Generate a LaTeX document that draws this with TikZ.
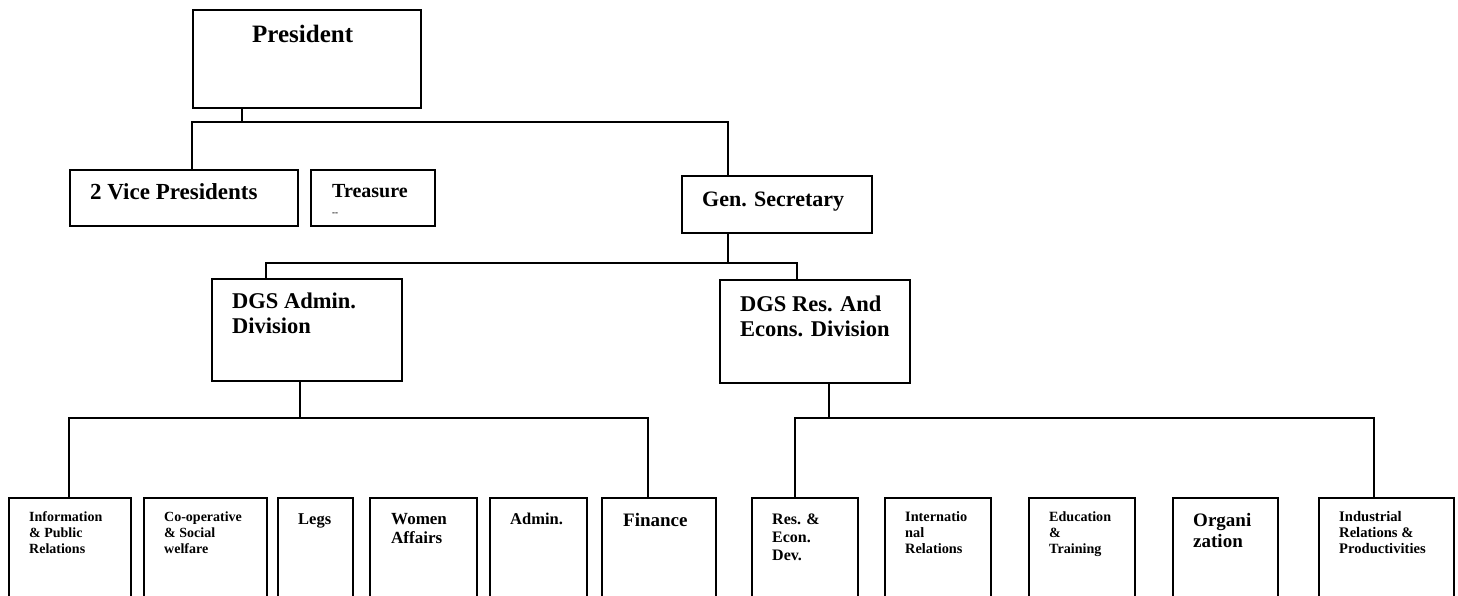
\documentclass[tikz,border=0pt]{standalone}
\usepackage{fontspec}
\setmainfont{Liberation Serif}
\newcommand{\fsz}[2]{\fontsize{#1}{#2}\selectfont\bfseries}
\tikzset{
  box/.style={draw, rectangle, line width=1.6pt, inner sep=0pt, anchor=north west},
  txt/.style={anchor=base west, inner sep=0pt, align=left},
  conn/.style={line width=1.5pt},
}
\begin{document}
\begin{tikzpicture}[x=1pt,y=-1pt]
\useasboundingbox (0,0) rectangle (1458,596);
\clip (0,0) rectangle (1458,596);
% top level boxes
\node[box, minimum width=228pt, minimum height=98pt] (pres) at (192,9) {};
\node[box, minimum width=228pt, minimum height=56pt] (vp) at (69,169) {};
\node[box, minimum width=124pt, minimum height=56pt] (tr) at (310,169) {};
\node[box, minimum width=190pt, minimum height=57pt] (gs) at (681,175) {};
\node[box, minimum width=190pt, minimum height=102pt] (dgsa) at (211,278) {};
\node[box, minimum width=190pt, minimum height=103pt] (dgsr) at (719,279) {};
% bottom boxes (open at the bottom edge of the picture)
\node[box, minimum width=122pt, minimum height=130pt] (b1) at (8,497) {};
\node[box, minimum width=123pt, minimum height=130pt] (b2) at (143,497) {};
\node[box, minimum width=75pt, minimum height=130pt] (b3) at (277,497) {};
\node[box, minimum width=107pt, minimum height=130pt] (b4) at (369,497) {};
\node[box, minimum width=97pt, minimum height=130pt] (b5) at (489,497) {};
\node[box, minimum width=114pt, minimum height=130pt] (b6) at (601,497) {};
\node[box, minimum width=106pt, minimum height=130pt] (b7) at (751,497) {};
\node[box, minimum width=106pt, minimum height=130pt] (b8) at (884,497) {};
\node[box, minimum width=106pt, minimum height=130pt] (b9) at (1028,497) {};
\node[box, minimum width=105pt, minimum height=130pt] (b10) at (1172,497) {};
\node[box, minimum width=135pt, minimum height=130pt] (b11) at (1318,497) {};
% texts (base anchor = baseline of the last line)
\node[txt, font=\fsz{25}{28}] (tpres) at (252,43) {President};
\node[txt, font=\fsz{23}{26}] (tvp) at (90,200) {2 Vice Presidents};
\node[txt, font=\fsz{20}{22}] (ttr) at (332,197) {Treasure};
\node[txt, font=\fsz{9}{10}] (ttr2) at (332,215.5) {{-}{-}};
\node[txt, font=\fsz{22}{25}] (tgs) at (702,207) {Gen. Secretary};
\node[txt, font=\fsz{22.5}{25}] (tdgsa) at (232,333) {DGS Admin.\\Division};
\node[txt, font=\fsz{22.5}{25}] (tdgsr) at (740,336) {DGS Res. And\\Econs. Division};
\node[txt, font=\fsz{14}{16}] (t1) at (29,553) {Information\\\& Public\\Relations};
\node[txt, font=\fsz{14}{16}] (t2) at (164,553) {Co-operative\\\& Social\\welfare};
\node[txt, font=\fsz{16.5}{19}] (t3) at (298,524) {Legs};
\node[txt, font=\fsz{17}{19}] (t4) at (391,543) {Women\\Affairs};
\node[txt, font=\fsz{16.5}{19}] (t5) at (510,524) {Admin.};
\node[txt, font=\fsz{19}{21}] (t6) at (623,526) {Finance};
\node[txt, font=\fsz{16}{18.3}] (t7) at (772,560.6) {Res. \&\\Econ.\\Dev.};
\node[txt, font=\fsz{14.3}{16}] (t8) at (905,553) {Internatio\\nal\\Relations};
\node[txt, font=\fsz{14.1}{16}] (t9) at (1049,553) {Education\\\&\\Training};
\node[txt, font=\fsz{19}{21.7}] (t10) at (1193,547.7) {Organi\\zation};
\node[txt, font=\fsz{14.6}{16}] (t11) at (1339,553) {Industrial\\Relations \&\\Productivities};
% junction coordinates
\coordinate (pj) at (242,122);
\coordinate (pl) at (192,122);
\coordinate (pr) at (728,122);
\coordinate (gj) at (728,263);
\coordinate (gl) at (266,263);
\coordinate (gr) at (797,263);
\coordinate (aj) at (300,418);
\coordinate (al) at (69,418);
\coordinate (ar) at (648,418);
\coordinate (rj) at (829,418);
\coordinate (rl) at (795,418);
\coordinate (rr) at (1374,418);
\coordinate (mk1) at (1018,418);
\coordinate (mk2) at (1026,418);
% connectors
\draw[conn] (pres.south -| pj) -- (pj);
\draw[conn] (vp.north -| pl) -- (pl) -- (pr) -- (gs.north -| pr);
\draw[conn] (gs.south -| gj) -- (gj);
\draw[conn] (dgsa.north -| gl) -- (gl) -- (gr) -- (dgsr.north -| gr);
\draw[conn] (dgsa.south -| aj) -- (aj);
\draw[conn] (b1.north -| al) -- (al) -- (ar) -- (b6.north -| ar);
\draw[conn] (dgsr.south -| rj) -- (rj);
\draw[conn] (b7.north -| rl) -- (rl) -- (rr) -- (b11.north -| rr);
\draw[line width=2.5pt] (mk1) -- (mk2);
\end{tikzpicture}
\end{document}
